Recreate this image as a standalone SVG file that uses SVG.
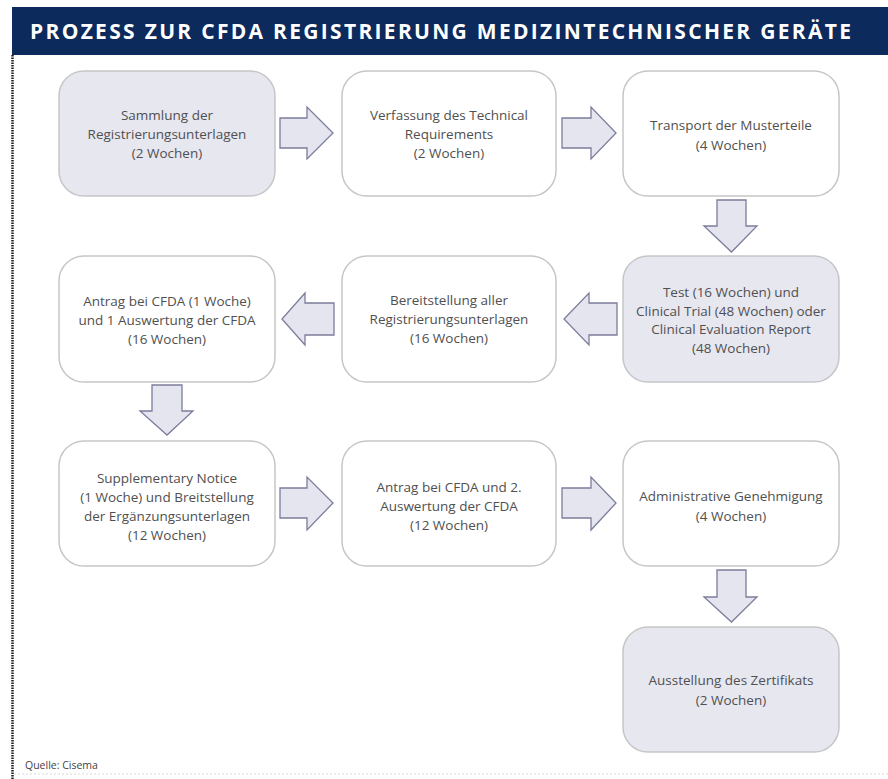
<svg xmlns="http://www.w3.org/2000/svg" width="888" height="779" viewBox="0 0 888 779">
  <defs>
    <style>
      .box { stroke: #c6c6c8; stroke-width: 1.5; }
      .plain { fill: #ffffff; }
      .shade { fill: #e7e7f0; }
      .lbl { font-family: "Open Sans", "Noto Sans", sans-serif; font-size: 13.5px; fill: #505050; text-anchor: middle; }
      .arrow { fill: #e5e5ef; stroke: #7c7c9c; stroke-width: 1.3; stroke-linejoin: miter; }
      .title { font-family: "Open Sans", "Noto Sans", sans-serif; font-weight: bold; font-size: 21px; fill: #ffffff; }
      .src { font-family: "Open Sans", "Noto Sans", sans-serif; font-size: 10.5px; fill: #444444; }
    </style>
  </defs>

  <rect x="0" y="0" width="888" height="779" fill="#ffffff"/>

  <!-- header bar -->
  <rect x="12" y="7" width="876" height="48" fill="#0c2a5c"/>
  <text class="title" x="30" y="38.5" textLength="821" lengthAdjust="spacing">PROZESS ZUR CFDA REGISTRIERUNG MEDIZINTECHNISCHER GERÄTE</text>

  <!-- frame edges -->
  <line x1="12.5" y1="55" x2="12.5" y2="779" stroke="#222222" stroke-width="2.5" stroke-dasharray="1.5,1"/>
  <line x1="14" y1="774" x2="888" y2="774" stroke="#d8d8d8" stroke-width="1" stroke-dasharray="2,2"/>

  <!-- connectors -->
  <g id="connectors">
    <polygon class="arrow" points="280,118 307,118 307,107 333,133 307,159 307,148 280,148"/>
    <polygon class="arrow" points="562,118 591,118 591,107 616,133 591,159 591,148 562,148"/>
    <polygon class="arrow" points="717,200 746,200 746,226 757,226 731.5,252 704,226 717,226"/>
    <polygon class="arrow" points="617,303 589,303 589,293 564,319 589,345 589,335 617,335"/>
    <polygon class="arrow" points="334,303 305,303 305,293 282,319 305,345 305,335 334,335"/>
    <polygon class="arrow" points="152,385 182,385 182,411 193,411 167,435 140,411 152,411"/>
    <polygon class="arrow" points="280,488 307,488 307,477 333,503 307,530 307,518 280,518"/>
    <polygon class="arrow" points="562,488 591,488 591,477 616,503 591,530 591,518 562,518"/>
    <polygon class="arrow" points="717,570 746,570 746,597 757,597 731.5,622 704,597 717,597"/>
  </g>

  <!-- row 1 -->
  <g id="n1">
    <rect class="box shade" x="59" y="71" width="216" height="125" rx="25"/>
    <text class="lbl" x="167" y="120">Sammlung der</text>
    <text class="lbl" x="167" y="139">Registrierungsunterlagen</text>
    <text class="lbl" x="167" y="158">(2 Wochen)</text>
  </g>
  <g id="n2">
    <rect class="box plain" x="342" y="71" width="214" height="125" rx="25"/>
    <text class="lbl" x="449" y="120">Verfassung des Technical</text>
    <text class="lbl" x="449" y="139">Requirements</text>
    <text class="lbl" x="449" y="158">(2 Wochen)</text>
  </g>
  <g id="n3">
    <rect class="box plain" x="623" y="71" width="216" height="125" rx="25"/>
    <text class="lbl" x="731" y="129.5">Transport der Musterteile</text>
    <text class="lbl" x="731" y="149.5">(4 Wochen)</text>
  </g>

  <!-- row 2 -->
  <g id="n4">
    <rect class="box plain" x="59" y="256" width="216" height="126" rx="25"/>
    <text class="lbl" x="167" y="306">Antrag bei CFDA (1 Woche)</text>
    <text class="lbl" x="167" y="325">und 1 Auswertung der CFDA</text>
    <text class="lbl" x="167" y="344">(16 Wochen)</text>
  </g>
  <g id="n5">
    <rect class="box plain" x="342" y="256" width="214" height="126" rx="25"/>
    <text class="lbl" x="449" y="305">Bereitstellung aller</text>
    <text class="lbl" x="449" y="324">Registrierungsunterlagen</text>
    <text class="lbl" x="449" y="343">(16 Wochen)</text>
  </g>
  <g id="n6">
    <rect class="box shade" x="623" y="256" width="216" height="126" rx="25"/>
    <text class="lbl" x="731" y="296.5">Test (16 Wochen) und</text>
    <text class="lbl" x="731" y="315.5">Clinical Trial (48 Wochen) oder</text>
    <text class="lbl" x="731" y="334">Clinical Evaluation Report</text>
    <text class="lbl" x="731" y="353">(48 Wochen)</text>
  </g>

  <!-- row 3 -->
  <g id="n7">
    <rect class="box plain" x="59" y="441" width="216" height="125" rx="25"/>
    <text class="lbl" x="167" y="482.5">Supplementary Notice</text>
    <text class="lbl" x="167" y="501.5">(1 Woche) und Breitstellung</text>
    <text class="lbl" x="167" y="520.5">der Ergänzungsunterlagen</text>
    <text class="lbl" x="167" y="539.5">(12 Wochen)</text>
  </g>
  <g id="n8">
    <rect class="box plain" x="342" y="441" width="214" height="125" rx="25"/>
    <text class="lbl" x="449" y="491.5">Antrag bei CFDA und 2.</text>
    <text class="lbl" x="449" y="510.5">Auswertung der CFDA</text>
    <text class="lbl" x="449" y="529.5">(12 Wochen)</text>
  </g>
  <g id="n9">
    <rect class="box plain" x="623" y="441" width="216" height="125" rx="25"/>
    <text class="lbl" x="731" y="501">Administrative Genehmigung</text>
    <text class="lbl" x="731" y="521">(4 Wochen)</text>
  </g>

  <!-- final step -->
  <g id="n10">
    <rect class="box shade" x="623" y="627" width="216" height="125" rx="25"/>
    <text class="lbl" x="731" y="684.5">Ausstellung des Zertifikats</text>
    <text class="lbl" x="731" y="704.5">(2 Wochen)</text>
  </g>

  <text class="src" x="25" y="769">Quelle: Cisema</text>
</svg>
